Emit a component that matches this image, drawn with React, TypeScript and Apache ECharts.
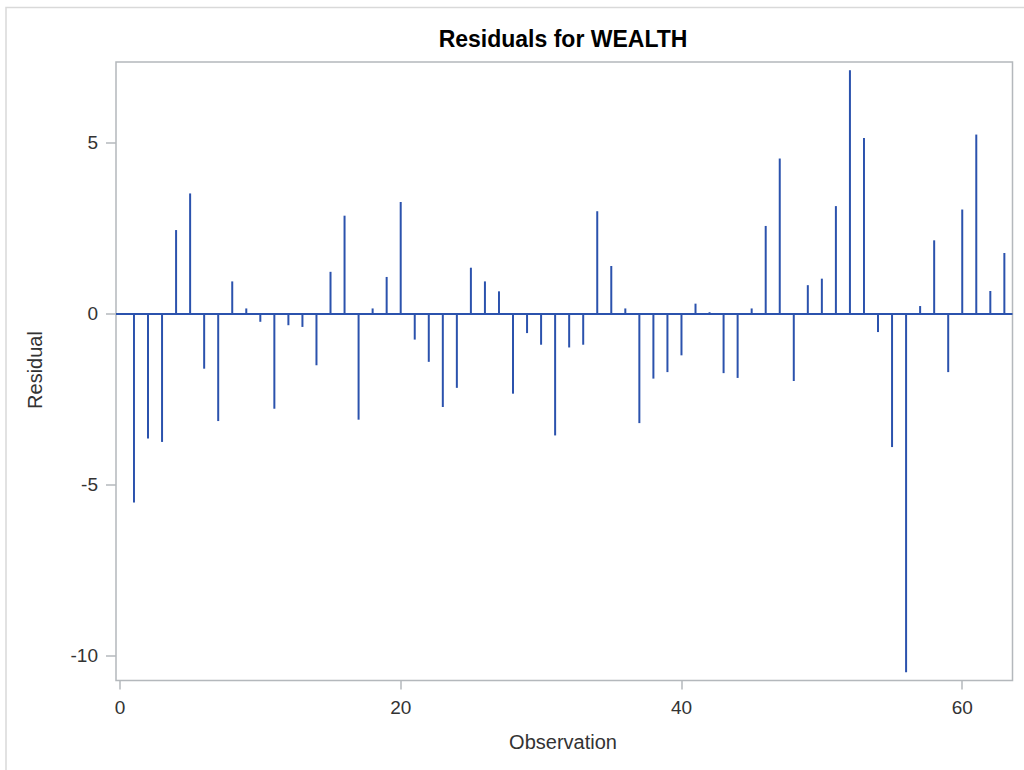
import React, { useEffect, useRef } from "react";
import * as echarts from "echarts";

const observations: number[] = Array.from({ length: 63 }, (_, i) => i + 1);
const residuals: number[] = [
  -5.52, -3.65, -3.75, 2.44, 3.51, -1.61, -3.14, 0.94, 0.15, -0.24,
  -2.78, -0.34, -0.39, -1.51, 1.22, 2.86, -3.10, 0.15, 1.07, 3.26,
  -0.76, -1.41, -2.73, -2.17, 1.34, 0.94, 0.65, -2.34, -0.57, -0.91,
  -3.56, -0.99, -0.91, 2.99, 1.39, 0.15, -3.20, -1.90, -1.71, -1.22,
  0.29, 0.04, -1.74, -1.88, 0.15, 2.56, 4.53, -1.97, 0.83, 1.02,
  3.14, 7.11, 5.13, -0.54, -3.90, -10.48, 0.22, 2.14, -1.71, 3.04,
  5.23, 0.66, 1.77,
];
const xTicks: number[] = [0, 20, 40, 60];
const yTicks: number[] = [-10, -5, 0, 5];

const FONT = "'Liberation Sans', Arial, sans-serif";
const BLUE = "#2b52ad";
const FRAME = "#b4b8bc";

export default function App() {
  const ref = useRef<HTMLDivElement>(null);
  useEffect(() => {
    if (!ref.current) return;
    const chart = echarts.init(ref.current, undefined, { renderer: "svg" });
    chart.setOption({
      animation: false,
      backgroundColor: "#ffffff",
      grid: {
        left: 116,
        top: 62,
        right: 11.5,
        bottom: 89.5,
        show: true,
        borderColor: FRAME,
        borderWidth: 1.5,
        backgroundColor: "transparent",
      },
      xAxis: {
        type: "value",
        position: "bottom",
        min: -0.28,
        max: 63.58,
        axisLine: { show: false, onZero: false },
        splitLine: { show: false },
        axisTick: {
          show: true,
          length: 9,
          customValues: xTicks,
          lineStyle: { color: FRAME, width: 1.5 },
        },
        axisLabel: {
          customValues: xTicks,
          fontSize: 19,
          color: "#333333",
          fontFamily: FONT,
          margin: 17,
        },
      },
      yAxis: {
        type: "value",
        position: "left",
        min: -10.72,
        max: 7.35,
        axisLine: { show: false, onZero: false },
        splitLine: { show: false },
        axisTick: {
          show: true,
          length: 10,
          customValues: yTicks,
          lineStyle: { color: FRAME, width: 1.5 },
        },
        axisLabel: {
          customValues: yTicks,
          fontSize: 19,
          color: "#333333",
          fontFamily: FONT,
          margin: 18,
        },
      },
      series: [
        {
          type: "bar",
          data: observations.map((o, i) => [o, residuals[i]]),
          barWidth: 2,
          itemStyle: { color: BLUE },
          silent: true,
          markLine: {
            silent: true,
            symbol: ["none", "none"],
            label: { show: false },
            lineStyle: { color: BLUE, width: 2, type: "solid" },
            data: [{ yAxis: 0 }],
          },
        },
      ],
      graphic: [
        {
          type: "rect",
          shape: { x: 6, y: 7.5, width: 1100, height: 900 },
          style: { fill: "none", stroke: "#d9d9d9", lineWidth: 1.5 },
          silent: true,
        },
        {
          type: "text",
          x: 563,
          y: 39,
          style: {
            text: "Residuals for WEALTH",
            font: `bold 23px ${FONT}`,
            fill: "#000000",
            textAlign: "center",
            textVerticalAlign: "middle",
          },
        },
        {
          type: "text",
          x: 563,
          y: 742,
          style: {
            text: "Observation",
            font: `20px ${FONT}`,
            fill: "#333333",
            textAlign: "center",
            textVerticalAlign: "middle",
          },
        },
        {
          type: "text",
          x: 35,
          y: 370,
          rotation: Math.PI / 2,
          style: {
            text: "Residual",
            font: `20px ${FONT}`,
            fill: "#333333",
            textAlign: "center",
            textVerticalAlign: "middle",
          },
        },
      ],
    });
    return () => chart.dispose();
  }, []);
  return (
    <div
      ref={ref}
      style={{ position: "fixed", left: 0, top: 0, width: 1024, height: 770 }}
    />
  );
}
